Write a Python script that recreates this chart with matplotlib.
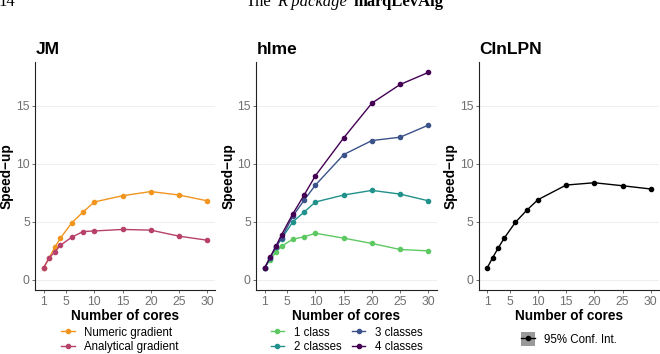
import matplotlib
matplotlib.use("Agg")
import matplotlib.pyplot as plt
from matplotlib.lines import Line2D
from matplotlib.patches import Patch

plt.rcParams["font.family"] = ["Liberation Sans", "DejaVu Sans"]

# === data ===
cores = [1, 2, 3, 4, 6, 8, 10, 15, 20, 25, 30]

jm_numeric = [1.0, 1.87, 2.8, 3.58, 4.9, 5.83, 6.7, 7.24, 7.6, 7.3, 6.8]
jm_analytical = [1.0, 1.87, 2.39, 2.97, 3.66, 4.15, 4.2, 4.33, 4.27, 3.75, 3.4]

hlme_1 = [1.0, 1.73, 2.37, 2.88, 3.49, 3.69, 4.0, 3.58, 3.12, 2.6, 2.48]
hlme_2 = [1.0, 1.87, 2.83, 3.52, 4.99, 5.83, 6.7, 7.3, 7.7, 7.38, 6.8]
hlme_3 = [1.0, 1.9, 2.83, 3.58, 5.48, 6.86, 8.16, 10.79, 12.0, 12.29, 13.33]
hlme_4 = [1.0, 1.96, 2.88, 3.87, 5.68, 7.3, 8.97, 12.23, 15.23, 16.84, 17.88]

cinlpn = [0.98, 1.9, 2.74, 3.55, 4.93, 5.97, 6.89, 8.16, 8.36, 8.1, 7.82]

xticks = [1, 5, 10, 15, 20, 25, 30]
yticks = [0, 5, 10, 15]

jm_labels = ["Numeric gradient", "Analytical gradient"]
jm_colors = ["#F0951F", "#B7416A"]
hlme_labels = ["1 class", "2 classes", "3 classes", "4 classes"]
hlme_colors = ["#5EC962", "#21918C", "#3B528B", "#440154"]

# === figure ===
fig = plt.figure(figsize=(6.6, 3.54), dpi=100)
lefts = [0.0535, 0.3885, 0.7255]
axes = [fig.add_axes([l, 0.1808, 0.273, 0.6441]) for l in lefts]


def style(ax, title):
    ax.set_xlim(-0.45, 31.45)
    ax.set_ylim(-0.895, 18.78)
    ax.set_xticks(xticks)
    ax.set_yticks(yticks)
    ax.grid(axis="y", color="#EBEBEB", lw=0.6)
    ax.set_axisbelow(True)
    for s in ["top", "right"]:
        ax.spines[s].set_visible(False)
    for s in ["left", "bottom"]:
        ax.spines[s].set_linewidth(0.8)
        ax.spines[s].set_color("#222222")
    ax.tick_params(length=2.5, width=0.6, color="#555555", labelcolor="#707070",
                   labelsize=8.7, pad=1.5)
    ax.set_xlabel("Number of cores", fontsize=9.8, fontweight="bold", labelpad=1)
    ax.set_ylabel("Speed\u2212up", fontsize=9.8, fontweight="bold", labelpad=1.5)
    ax.set_title(title, loc="left", fontsize=12.5, fontweight="bold", pad=6, x=0.0)


# JM
ax = axes[0]
for ys, lab, col in zip([jm_numeric, jm_analytical], jm_labels, jm_colors):
    ax.plot(cores, ys, "-o", color=col, lw=1, ms=3, label=lab)
style(ax, "JM")
ax.legend(loc="upper center", bbox_to_anchor=(0.47, -0.14), frameon=False,
          fontsize=8.3, handlelength=1.2, labelspacing=0.2, handletextpad=0.8,
          borderaxespad=0)

# hlme
ax = axes[1]
for ys, lab, col in zip([hlme_1, hlme_2, hlme_3, hlme_4], hlme_labels, hlme_colors):
    ax.plot(cores, ys, "-o", color=col, lw=1, ms=3, label=lab)
style(ax, "hlme")
ax.legend(loc="upper center", bbox_to_anchor=(0.5, -0.14), frameon=False, ncol=2,
          fontsize=8.3, handlelength=1.2, labelspacing=0.2, handletextpad=0.8,
          columnspacing=0.9, borderaxespad=0)

# CInLPN
ax = axes[2]
ax.plot(cores, cinlpn, "-o", color="black", lw=1, ms=3)
style(ax, "CInLPN")
key = (Patch(facecolor="#999999", edgecolor="none"),
       Line2D([], [], color="black", marker="o", lw=1, ms=3))
ax.legend([key], ["95% Conf. Int."], loc="upper center", bbox_to_anchor=(0.5, -0.165),
          frameon=False, fontsize=8.3, handlelength=1.2, handleheight=1.5,
          handletextpad=0.8, borderaxespad=0)

# page header (cropped at the top)
fig.text(-0.002, 0.983, "14", fontsize=12, family="Liberation Serif", va="baseline")
fig.text(0.373, 0.983, "The", fontsize=12, family="Liberation Serif", va="baseline")
fig.text(0.42, 0.983, "R package", fontsize=12, family="Liberation Serif",
         style="italic", va="baseline")
fig.text(0.536, 0.983, "marqLevAlg", fontsize=12, family="Liberation Serif",
         fontweight="bold", va="baseline")

fig.savefig("out.png", dpi=100)
